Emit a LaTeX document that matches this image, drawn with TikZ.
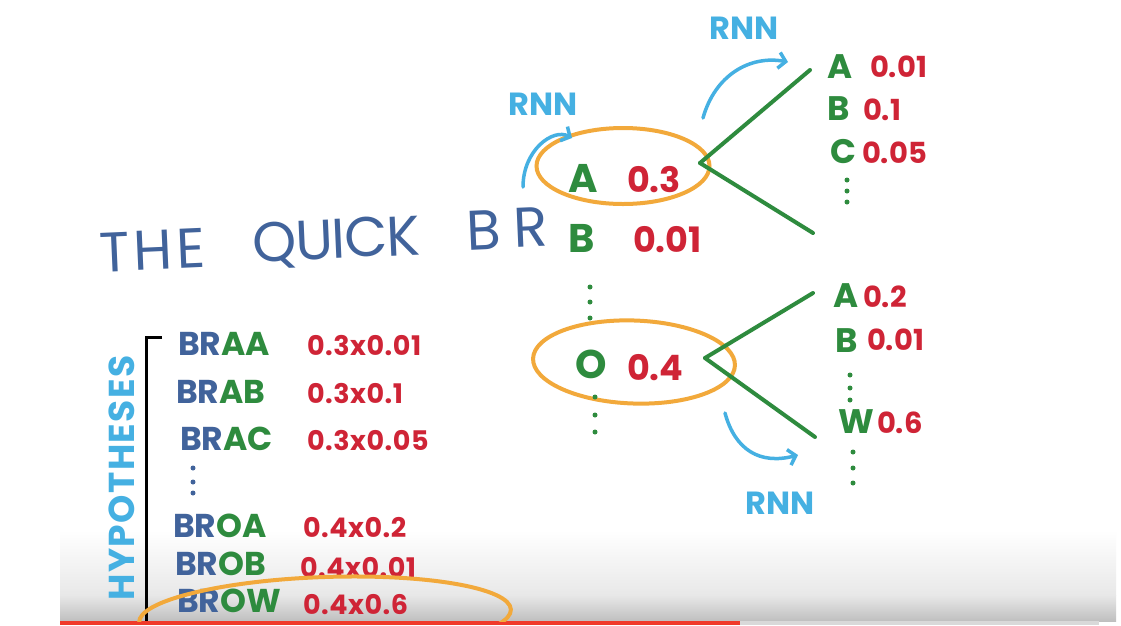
\documentclass[tikz,border=0pt]{standalone}
\usepackage{fontspec}
\setmainfont{Poppins}
\usetikzlibrary{arrows.meta,shapes.geometric}
\definecolor{tblue}{HTML}{41639B}
\definecolor{tgreen}{HTML}{2E8B3E}
\definecolor{tred}{HTML}{CF2436}
\definecolor{lblue}{HTML}{45B0E2}
\definecolor{orng}{HTML}{F2A93B}
\definecolor{barred}{HTML}{F03A2A}
\definecolor{bargray}{HTML}{D9D9D9}
\newcommand\myfs[1]{\fontsize{#1}{#1}\selectfont}
\begin{document}
\begin{tikzpicture}[x=1pt,y=-1pt,
  every node/.style={inner sep=0pt, outer sep=0pt},
  title/.style={text=tblue, anchor=base west, rotate=2.5},
  lab/.style={font=\myfs{40}\bfseries, text=tgreen, anchor=base west},
  slab/.style={font=\myfs{34}\bfseries, text=tgreen, anchor=base west},
  num/.style={font=\myfs{29}\bfseries, text=tred, anchor=base west},
  bnum/.style={font=\myfs{35}\bfseries, text=tred, anchor=base west},
  hyp/.style={font=\myfs{33}\bfseries, anchor=base west},
  hnum/.style={font=\myfs{27}\bfseries\addfontfeature{LetterSpace=2}, text=tred, anchor=base west},
  rnn/.style={font=\myfs{32}\bfseries, text=lblue},
  arr/.style={draw=lblue, line width=3.5pt, line cap=round, -{Straight Barb[length=7pt,width=16pt]}},
  branch/.style={draw=tgreen, line width=4pt, line cap=round},
  oval/.style={draw=orng, line width=4pt, ellipse},
  dotg/.style={fill=tgreen, circle, minimum size=5pt}
]
\useasboundingbox (0,0) rectangle (1121,625);
\fill[white] (0,0) rectangle (1121,625);
% bottom overlay
\shade[top color=white, bottom color=black!9] (60,530) rectangle (1116,595);
\shade[top color=black!9, bottom color=black!25] (60,595) rectangle (1116,621);
\fill[barred] (60,621) rectangle (740,625);
\fill[bargray] (740,621) rectangle (1099,625);

% title
\node[title, font=\myfs{56}\addfontfeature{LetterSpace=8}] (the) at (100,272) {THE};
\node[title, font=\myfs{56}\addfontfeature{LetterSpace=-2}] (quick) at (253,262) {QUICK};
\node[title, font=\myfs{56}\addfontfeature{LetterSpace=24}] (br) at (467,250) {BR};

% first candidate
\node[oval, minimum width=173pt, minimum height=76pt] (e1) at (623,166) {};
\node[lab] (a1) at (568,192) {A};
\node[bnum] (a1n) at (627,192) {0.3};
\node[lab] (b1) at (568,252) {B};
\node[bnum] (b1n) at (633,252) {0.01};
\node[dotg] (d1) at (590,287) {};
\node[dotg] (d2) at (590,302) {};
\node[dotg] (d3) at (590,318) {};

% second candidate
\node[oval, minimum width=202pt, minimum height=83pt, rotate=-2] (e2) at (634,362) {};
\node[lab] (o1) at (575,378) {O};
\node[bnum] (o1n) at (627,380) {0.4};
\node[dotg] (d4) at (595,397) {};
\node[dotg] (d5) at (595,415) {};
\node[dotg] (d6) at (595,432) {};

% upper expansion
\coordinate (j1) at (700,163);
\coordinate (u1) at (810,70);
\coordinate (u2) at (813,233);
\draw[branch] (j1) -- (u1);
\draw[branch] (j1) -- (u2);
\node[slab] (ra) at (827,78) {A};
\node[num] (ran) at (870,77) {0.01};
\node[slab] (rb) at (827,120) {B};
\node[num] (rbn) at (863,120) {0.1};
\node[slab] (rc) at (830,163) {C};
\node[num] (rcn) at (862,163) {0.05};
\node[dotg] (d7) at (847,180) {};
\node[dotg] (d8) at (847,191) {};
\node[dotg] (d9) at (847,202) {};

% lower expansion
\coordinate (j2) at (705,358);
\coordinate (l1) at (813,293);
\coordinate (l2) at (815,437);
\draw[branch] (j2) -- (l1);
\draw[branch] (j2) -- (l2);
\node[slab] (sa) at (833,307) {A};
\node[num] (san) at (863,307) {0.2};
\node[slab] (sb) at (835,352) {B};
\node[num] (sbn) at (867,350) {0.01};
\node[dotg] (d10) at (850,375) {};
\node[dotg] (d11) at (850,388) {};
\node[dotg] (d12) at (850,400) {};
\node[slab] (sw) at (838,433) {W};
\node[num] (swn) at (877,433) {0.6};
\node[dotg] (d13) at (853,452) {};
\node[dotg] (d14) at (853,468) {};
\node[dotg] (d15) at (853,483) {};

% RNN arrows
\node[rnn] (r1) at (543,104) {RNN};
\coordinate (r1s) at (523,187);
\coordinate (r1e) at (572,138);
\draw[arr] (r1s) .. controls (523,150) and (553,128) .. (r1e);
\node[rnn] (r2) at (744,28) {RNN};
\coordinate (r2s) at (703,118);
\coordinate (r2e) at (788,62);
\draw[arr] (r2s) .. controls (715,75) and (750,55) .. (r2e);
\node[rnn] (r3) at (780,503) {RNN};
\coordinate (r3s) at (725,413);
\coordinate (r3e) at (798,455);
\draw[arr] (r3s) .. controls (735,450) and (760,465) .. (r3e);

% hypotheses
\coordinate (bt) at (162,337);
\coordinate (bc) at (146,337);
\coordinate (bb) at (146,621);
\draw[line width=3pt, black] (bt) -- (bc) -- (bb);
\node[font=\myfs{36}\bfseries\addfontfeature{LetterSpace=4}, text=lblue, rotate=90] (hy) at (122,478) {HYPOTHESES};

\node[hyp] (h1) at (178,355) {\textcolor{tblue}{BR}\textcolor{tgreen}{AA}};
\node[hnum] (h1n) at (307,355) {0.3x0.01};
\node[hyp] (h2) at (176,403) {\textcolor{tblue}{BR}\textcolor{tgreen}{AB}};
\node[hnum] (h2n) at (307,403) {0.3x0.1};
\node[hyp] (h3) at (180,450) {\textcolor{tblue}{BR}\textcolor{tgreen}{AC}};
\node[hnum] (h3n) at (307,450) {0.3x0.05};
\node[fill=tblue, circle, minimum size=5pt] (hd1) at (193,468) {};
\node[fill=tblue, circle, minimum size=5pt] (hd2) at (193,482) {};
\node[fill=tblue, circle, minimum size=5pt] (hd3) at (193,493) {};
\node[hyp] (h4) at (173,537) {\textcolor{tblue}{BR}\textcolor{tgreen}{OA}};
\node[hnum] (h4n) at (303,537) {0.4x0.2};
\node[hyp] (h5) at (175,575) {\textcolor{tblue}{BR}\textcolor{tgreen}{OB}};
\node[hnum] (h5n) at (300,577) {0.4x0.01};
\node[hyp] (h6) at (177,612) {\textcolor{tblue}{BR}\textcolor{tgreen}{OW}};
\node[hnum] (h6n) at (303,614) {0.4x0.6};
\begin{scope}
\clip (0,0) rectangle (1121,621);
\node[oval, minimum width=372pt, minimum height=78pt, rotate=2] (e3) at (325,616) {};
\end{scope}
\end{tikzpicture}
\end{document}
